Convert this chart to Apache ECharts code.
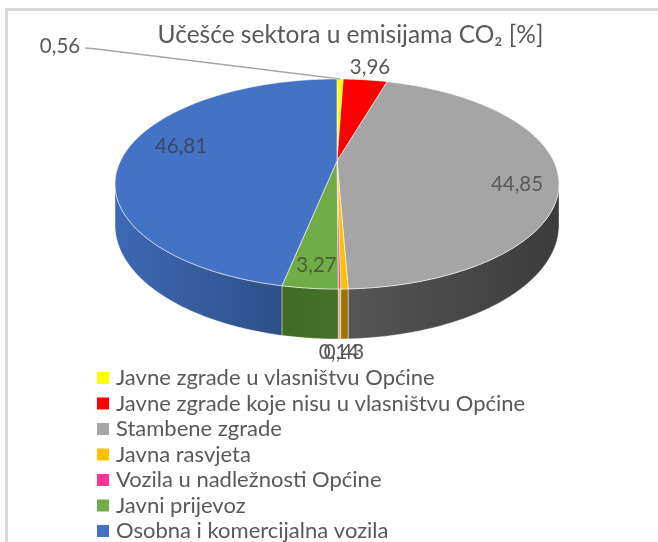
<!DOCTYPE html>
<html>
<head>
<meta charset="utf-8">
<style>
html, body { margin: 0; padding: 0; background: #fff; }
#main { width: 658px; height: 542px; }
</style>
<script src="https://cdn.jsdelivr.net/npm/echarts@6/dist/echarts.min.js"></script>
</head>
<body>
<div id="main"></div>
<script>
const categories = [
    'Javne zgrade u vlasništvu Općine',
    'Javne zgrade koje nisu u vlasništvu Općine',
    'Stambene zgrade',
    'Javna rasvjeta',
    'Vozila u nadležnosti Općine',
    'Javni prijevoz',
    'Osobna i komercijalna vozila'
];
const shares = [0.56, 3.96, 44.85, 0.43, 0.14, 3.27, 46.81];
const chartTitle = 'Učešće sektora u emisijama CO₂ [%]';

const topColors = ['#FFFF00', '#FF0000', '#A5A5A5', '#FFC000', '#FF3399', '#70AD47', '#4472C4'];
const wallColors = [
    ['#999900', '#999900'],
    ['#990000', '#990000'],
    ['#555555', '#3c3c3c'],
    ['#9c7400', '#9c7400'],
    ['#e0a890', '#e0a890'],
    ['#3f6b26', '#47712b'],
    ['#3d68b4', '#2e5088']
];
// where each value label sits, [x, y]
const labelSpots = [[60, 46], [370, 67], [517, 184], [344, 352], [339, 352], [316.5, 265], [181, 146]];
const labelInks = ['#595959', '#595959', 'rgba(50,50,50,0.65)', '#595959', '#595959', 'rgba(50,50,50,0.65)', 'rgba(50,50,50,0.65)'];

// tilted disc seen in perspective
const cx = 337, cy = 161, rx = 216.6, ry = 100, persp = 0.219, depth = 39;
const sideAngle = Math.acos(-persp);

const total = shares.reduce((a, b) => a + b, 0);

function project(theta, r, drop) {
    const w = 1 + persp * Math.cos(theta);
    return [
        cx + rx * r * Math.sin(theta) / w,
        cy - ry * r * Math.cos(theta) / w + (drop ? depth / w : 0)
    ];
}

function arc(from, to, drop) {
    const pts = [];
    const steps = Math.max(1, Math.ceil((to - from) / 0.02));
    for (let i = 0; i <= steps; i++) {
        pts.push(project(from + (to - from) * i / steps, 1, drop));
    }
    return pts;
}

function renderSlice(index) {
    return function (params, api) {
        let before = 0;
        for (let i = 0; i < index; i++) before += shares[i];
        const from = before / total * Math.PI * 2;
        const to = (before + api.value(0)) / total * Math.PI * 2;
        const children = [];

        // side wall only on the front half
        const a = Math.max(from, sideAngle);
        const b = Math.min(to, Math.PI * 2 - sideAngle);
        if (b > a) {
            const wall = arc(a, b, false).concat(arc(a, b, true).reverse());
            children.push({
                type: 'polygon',
                shape: { points: wall },
                style: {
                    fill: new echarts.graphic.LinearGradient(0, 0, 1, 0, [
                        { offset: 0, color: wallColors[index][0] },
                        { offset: 1, color: wallColors[index][1] }
                    ]),
                    stroke: 'rgba(255,255,255,0.55)',
                    lineWidth: 0.7
                }
            });
        }

        children.push({
            type: 'polygon',
            shape: { points: [[cx, cy]].concat(arc(from, to, false)) },
            style: { fill: topColors[index], stroke: 'rgba(255,255,255,0.7)', lineWidth: 0.8 }
        });

        // small first slice has a leader line
        if (index === 0) {
            const end = project((from + to) / 2, 1, false);
            children.push({
                type: 'polyline',
                shape: { points: [[85, 48], [97, 49], end] },
                style: { fill: 'none', stroke: '#a6a6a6', lineWidth: 1.5 }
            });
        }

        children.push({
            type: 'text',
            z2: 10,
            style: {
                x: labelSpots[index][0],
                y: labelSpots[index][1],
                text: String(api.value(0)).replace('.', ','),
                fill: labelInks[index],
                font: '20.5px Lato',
                align: 'center',
                verticalAlign: 'middle'
            }
        });

        return { type: 'group', children: children };
    };
}

const myChart = echarts.init(document.getElementById('main'));

myChart.setOption({
    animation: false,
    backgroundColor: '#fff',
    title: {
        text: chartTitle,
        left: 345.5,
        top: 18,
        textAlign: 'center',
        textStyle: { color: '#595959', fontFamily: 'Lato', fontSize: 24.5, fontWeight: 'normal' }
    },
    legend: {
        orient: 'vertical',
        left: 97,
        top: 367,
        padding: 0,
        itemWidth: 12,
        itemHeight: 12,
        itemGap: 3.5,
        icon: 'rect',
        data: categories,
        textStyle: { color: '#595959', fontFamily: 'Lato', fontSize: 22, lineHeight: 22, padding: [0, 0, 0, 2] }
    },
    graphic: [
        { type: 'rect', shape: { x: 5, y: 8, width: 653, height: 3 }, style: { fill: '#d9d9d9' } },
        { type: 'rect', shape: { x: 5, y: 8, width: 3, height: 534 }, style: { fill: '#d9d9d9' } }
    ],
    series: categories.map((name, index) => ({
        name: name,
        type: 'custom',
        coordinateSystem: 'none',
        clip: false,
        silent: true,
        itemStyle: { color: topColors[index] },
        data: [[shares[index]]],
        renderItem: renderSlice(index)
    }))
});
</script>
</body>
</html>
